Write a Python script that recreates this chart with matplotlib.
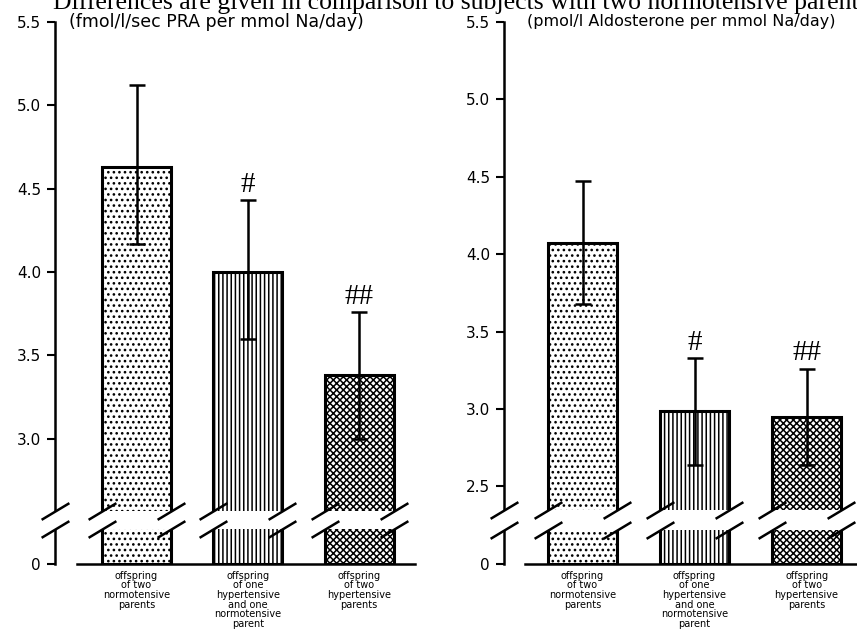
import numpy as np
import matplotlib
matplotlib.use('Agg')
import matplotlib.pyplot as plt

# data
groups = ['offspring\nof two\nnormotensive\nparents',
          'offspring\nof one\nhypertensive\nand one\nnormotensive\nparent',
          'offspring\nof two\nhypertensive\nparents']
marks = ['', '#', '##']

pra_mean = [4.63, 4.00, 3.38]
pra_low = [4.17, 3.60, 3.00]
pra_high = [5.12, 4.43, 3.76]
pra_ticks = [0, 3.0, 3.5, 4.0, 4.5, 5.0, 5.5]

aldo_mean = [4.07, 2.99, 2.95]
aldo_low = [3.68, 2.64, 2.64]
aldo_high = [4.47, 3.33, 3.26]
aldo_ticks = [0, 2.5, 3.0, 3.5, 4.0, 4.5, 5.0, 5.5]

hatches = ['...', '||||', 'xxxxx']

plt.rcParams['hatch.linewidth'] = 1.1
plt.rcParams['font.family'] = 'DejaVu Sans'

fig = plt.figure(figsize=(8.57, 6.43), dpi=100)

fig.text(53 / 857, 1 - 8.5 / 643,
         'Differences are given in comparison to subjects with two normotensive parents',
         family='Liberation Serif', fontsize=18.5, va='baseline', ha='left')


def broken_scale(z0, c):
    # values below c are squeezed so that 0 sits just under the break
    def fwd(y):
        y = np.asarray(y, dtype=float)
        return np.where(y < c, z0 + (c - z0) * y / c, y)

    def inv(v):
        v = np.asarray(v, dtype=float)
        return np.where(v < c, (v - z0) * c / (c - z0), v)
    return fwd, inv


def panel(rect, mean, low, high, ticks, z0, c, brk, title, title_x, title_fs,
          xlim, base0):
    ax = fig.add_axes(rect)
    ax.set_yscale('function', functions=broken_scale(z0, c))
    x = np.arange(1, 4)
    mean = np.array(mean)
    w = 0.62
    for xi, m, h in zip(x, mean, hatches):
        ax.bar(xi, m, w, bottom=0, facecolor='white', edgecolor='black',
               linewidth=2.2, hatch=h, zorder=2)
    ax.errorbar(x, mean, yerr=[mean - np.array(low), np.array(high) - mean],
                fmt='none', ecolor='black', elinewidth=1.8, capsize=6,
                capthick=1.8, zorder=3)
    for xi, hi, s in zip(x, high, marks):
        ax.annotate(s, (xi, hi), xytext=(0, 11), textcoords='offset points',
                    ha='center', va='center', family='Liberation Serif',
                    fontsize=21)

    ax.set_xlim(*xlim)
    ax.set_ylim(0, 5.5)
    ax.set_yticks(ticks)
    ax.set_yticklabels(['0' if t == 0 else '%.1f' % t for t in ticks])
    ax.set_xticks(x)
    ax.set_xticklabels(groups, fontsize=7, linespacing=0.95, va='top')
    ax.tick_params(axis='x', length=0, pad=5)
    ax.tick_params(axis='y', direction='out', length=6, width=1.5,
                   labelsize=11, pad=4)
    for sp in ['top', 'right']:
        ax.spines[sp].set_visible(False)
    ax.spines['left'].set_linewidth(1.8)
    ax.spines['bottom'].set_linewidth(1.8)
    ax.spines['left'].set_bounds(0, 5.5)
    ax.spines['bottom'].set_bounds(base0, xlim[1])

    # white gap of the axis break, across spine and bars
    lo, hi = brk
    band = ax.axhspan(lo, hi, xmin=-0.03, xmax=1, facecolor='white',
                      edgecolor='none', zorder=4)
    band.set_clip_on(False)
    xs = [xlim[0]] + [xi - w / 2 for xi in x] + [xi + w / 2 for xi in x]
    slash = [(-1, -0.6), (1, 0.6)]
    for yb in brk:
        ax.plot(xs, [yb] * len(xs), linestyle='none', marker=slash,
                markersize=20, mec='black', mew=1.8, clip_on=False, zorder=5)

    ax.text(title_x, 5.5, title, transform=ax.get_yaxis_transform(),
            ha='left', va='center', fontsize=title_fs)
    return ax


bot, top = 0.123, 0.966
panel([55 / 857, bot, 360 / 857, top - bot], pra_mean, pra_low, pra_high,
      pra_ticks, 2.25, 2.3, (2.46, 2.57),
      '(fmol/l/sec PRA per mmol Na/day)', 0.040, 12.5, (0.267, 3.503), 0.465)
panel([504 / 857, bot, 353 / 857, top - bot], aldo_mean, aldo_low, aldo_high,
      aldo_ticks, 2.0, 2.05, (2.22, 2.345),
      '(pmol/l Aldosterone per mmol Na/day)', 0.065, 11.5, (0.299, 3.45), 0.487)

fig.savefig('out.png', dpi=100)
